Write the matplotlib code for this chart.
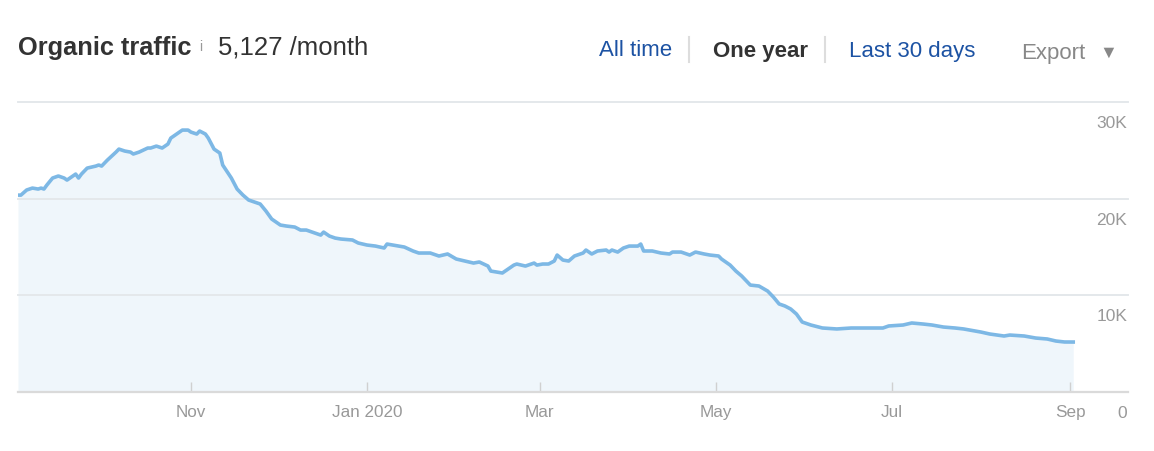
import numpy as np
import matplotlib
matplotlib.use("Agg")
import matplotlib.pyplot as plt
import matplotlib.transforms as mtransforms
from matplotlib.lines import Line2D

plt.rcParams['font.family'] = ['Liberation Sans', 'DejaVu Sans']

W, H = 1154, 452

# Daily organic traffic (day offset from 2019-09-02)
start = np.datetime64("2019-09-02")
days = [0, 1, 3, 5, 7, 8, 9, 10, 12, 14, 16, 17, 20, 21, 22, 24, 27, 28, 29, 31,
        34, 35, 37, 39, 40, 42, 45, 46, 48, 50, 52, 53, 55, 57, 59, 60, 62, 63, 65, 66,
        68, 70, 71, 74, 76, 78, 80, 82, 84, 86, 88, 91, 93, 96, 98, 100, 102, 104, 105, 106,
        108, 110, 112, 116, 118, 121, 124, 127, 128, 132, 134, 137, 139, 143, 146, 149, 152, 155, 158, 160,
        163, 164, 166, 168, 170, 172, 173, 176, 179, 180, 182, 184, 186, 187, 189, 191, 193, 196, 197, 199,
        201, 204, 205, 206, 208, 210, 212, 215, 216, 217, 220, 223, 226, 227, 230, 233, 235, 238, 240, 243,
        244, 247, 249, 251, 254, 257, 260, 262, 264, 266, 268, 270, 272, 275, 279, 284, 289, 294, 300, 302,
        307, 310, 314, 317, 321, 325, 328, 334, 337, 342, 344, 349, 353, 357, 360, 363, 366]
traffic = [20350, 20350, 20880, 21080, 20980, 21080, 20980, 21390, 22120, 22330, 22120, 21910, 22530, 22120, 22530, 23150, 23360, 23470, 23360, 23980,
           24810, 25120, 24920, 24810, 24610, 24810, 25230, 25230, 25430, 25230, 25640, 26260, 26680, 27090, 27090, 26880, 26680, 26990, 26680, 26260,
           25120, 24710, 23470, 22120, 20980, 20360, 19840, 19630, 19430, 18700, 17870, 17250, 17150, 17040, 16730, 16730, 16520, 16320, 16210, 16520,
           16110, 15900, 15800, 15700, 15390, 15180, 15070, 14870, 15280, 15070, 14970, 14560, 14350, 14350, 14040, 14250, 13730, 13520, 13310, 13420,
           13000, 12480, 12380, 12280, 12690, 13100, 13210, 13000, 13310, 13100, 13210, 13210, 13520, 14140, 13620, 13520, 14040, 14350, 14660, 14250,
           14560, 14660, 14450, 14660, 14450, 14870, 15070, 15070, 15280, 14560, 14560, 14350, 14250, 14450, 14450, 14140, 14450, 14250, 14140, 14040,
           13730, 13100, 12480, 11970, 11030, 10930, 10410, 9790, 9070, 8860, 8550, 8030, 7200, 6890, 6580, 6480, 6580, 6580, 6580, 6790,
           6890, 7100, 6990, 6890, 6680, 6580, 6480, 6160, 5960, 5750, 5850, 5750, 5540, 5440, 5230, 5130, 5127]

tick_dates = ["2019-11-01", "2020-01-01", "2020-03-01", "2020-05-01", "2020-07-01", "2020-09-01"]
tick_labels = ["Nov", "Jan 2020", "Mar", "May", "Jul", "Sep"]
y_levels = [0, 10000, 20000, 30000]
y_labels = ["0", "10K", "20K", "30K"]

dates = start + np.array(days).astype("timedelta64[D]")

fig = plt.figure(figsize=(W / 100, H / 100), dpi=100)
ax = fig.add_axes([18 / W, (H - 392.5) / H, (1128 - 18) / W, (392.5 - 103) / H])

ax.fill_between(dates, traffic, 0, color="#eff6fb", lw=0, zorder=1)
ax.plot(dates, traffic, color="#7db8e5", lw=2.6, solid_joinstyle="round", zorder=3)

ax.set_xlim(start, start + np.timedelta64(385, "D"))
ax.set_ylim(0, 30000)

for s in ax.spines.values():
    s.set_visible(False)

# gridlines (visible through the fill) and baseline
for v in y_levels[1:]:
    ax.axhline(v, color="#e4e8eb", lw=1.4, zorder=2, clip_on=False)
ax.axhline(0, color="#dadada", lw=1.6, zorder=4, clip_on=False)

ax.set_yticks([])
ax.set_xticks(np.array(tick_dates, dtype="datetime64[D]"))
ax.set_xticklabels(tick_labels)
ax.tick_params(axis="x", direction="in", length=7.5, width=1, color="#d0d0d0",
               pad=9, labelsize=12.3, labelcolor="#999999")

# y labels sit under their gridlines at the right edge
trans = mtransforms.blended_transform_factory(ax.transAxes, ax.transData)
for v, lab in zip(y_levels, y_labels):
    ax.annotate(lab, xy=(1, v), xycoords=trans, xytext=(-1, -21), textcoords="offset pixels",
                ha="right", va="center", fontsize=12.5, color="#999999", annotation_clip=False)

# header
def ftext(x, y, s, **kw):
    fig.text(x / W, 1 - y / H, s, va="center", **kw)

ftext(18, 48, "Organic traffic", fontsize=18.3, fontweight="bold", color="#333333")
ftext(199, 47, "i", fontsize=10, color="#999999")
ftext(218, 48, "5,127 /month", fontsize=18.5, color="#333333")
ftext(599, 51, "All time", fontsize=16, color="#1c52a3")
ftext(713, 51, "One year", fontsize=16, fontweight="bold", color="#333333")
ftext(849, 51, "Last 30 days", fontsize=16, color="#1c52a3")
ftext(1021, 53, "Export", fontsize=16, color="#888888")
ftext(1108, 53, "▼", fontsize=13, color="#888888", ha="center")

for sx in (689, 825):
    fig.add_artist(Line2D([sx / W, sx / W], [1 - 38 / H, 1 - 63 / H], color="#dddddd", lw=1.5))

fig.savefig("out.png", dpi=100)
